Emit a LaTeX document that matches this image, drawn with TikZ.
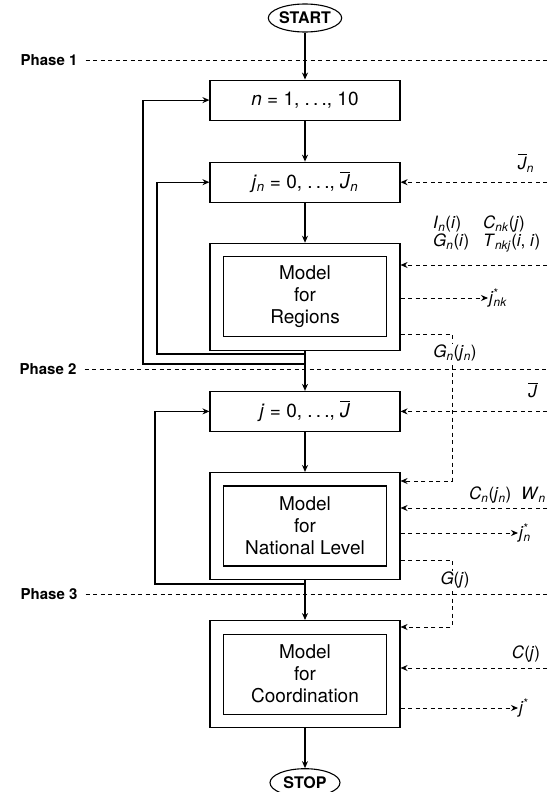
\documentclass[tikz,border=0pt]{standalone}
\usepackage{amsmath}
\usepackage{fontspec}
\setmainfont{TeX Gyre Heros}
\usepackage{tikz}
\usetikzlibrary{arrows.meta,positioning,shapes.geometric}

\newcommand{\ivar}[1]{\textit{#1}}
\newcommand{\isub}[2]{\textit{#1}\textsubscript{\textit{#2}}}
\newcommand{\istar}[2]{\textit{#1}\rlap{\textsuperscript{*}}\textsubscript{\textit{#2}}}
\newcommand{\barJ}{\ensuremath{\overline{\mbox{\textit{J}}}}}
\newcommand{\sdots}{.\,.\,.}

\begin{document}
\begin{tikzpicture}[
  x=1pt, y=-1pt,
  node distance=40pt,
  box/.style={draw=black, line width=1.1pt, minimum width=190pt, minimum height=40pt, inner sep=0pt, font=\fontsize{19}{22}\selectfont},
  outerbox/.style={draw=black, line width=1.1pt, minimum width=190pt, minimum height=107pt, inner sep=0pt},
  innerbox/.style={draw=black, line width=1.1pt, minimum width=163pt, minimum height=80pt, align=center, font=\fontsize{19}{22}\selectfont},
  term/.style={draw=black, ellipse, line width=1.1pt, minimum width=70pt, minimum height=28pt, inner sep=0pt, font=\bfseries\fontsize{16}{18}\selectfont},
  arr/.style={-{Stealth[length=7pt, width=6pt]}, line width=1.1pt},
  feed/.style={line width=0.9pt, dash pattern=on 4pt off 3.5pt},
  feedarr/.style={feed, -{Stealth[length=7pt, width=6pt]}},
  phlbl/.style={font=\bfseries\fontsize{15}{18}\selectfont, inner sep=2pt},
  lbl/.style={font=\fontsize{17}{18}\selectfont, inner sep=1pt},
]
  \useasboundingbox (0,0) rectangle (547,792);

  % main column
  \node[term] (start) at (305,18) {START};
  \node[box, below=47pt of start]    (nloop)  {\ivar{n} = 1, \sdots, 10};
  \node[box, below=41pt of nloop]    (jnloop) {\isub{j}{n} = 0, \sdots, \barJ\textsubscript{\ivar{n}}};
  \node[outerbox, below=of jnloop]   (reg)    {};
  \node[innerbox] (regin) at (reg)            {Model\\for\\Regions};
  \node[box, below=of reg]           (jloop)  {\ivar{j} = 0, \sdots, \barJ};
  \node[outerbox, below=of jloop]    (nat)    {};
  \node[innerbox] (natin) at (nat)            {Model\\for\\National Level};
  \node[outerbox, below=of nat]      (coord)  {};
  \node[innerbox] (coordin) at (coord)        {Model\\for\\Coordination};
  \node[term, below=of coord]        (stop)   {STOP};

  \draw[arr] (start)  -- (nloop);
  \draw[arr] (nloop)  -- (jnloop);
  \draw[arr] (jnloop) -- (reg);
  \draw[arr] (reg)    -- (jloop);
  \draw[arr] (jloop)  -- (nat);
  \draw[arr] (nat)    -- (coord);
  \draw[arr] (coord)  -- (stop);

  % loops back
  \coordinate (ret1) at (reg.south |- 0,364);
  \coordinate (ret2) at (reg.south |- 0,354);
  \coordinate (ret3) at (nat.south |- 0,584);
  \draw[arr] (ret1) -- ++(-162,0) |- (nloop.west);
  \draw[arr] (ret2) -- ++(-148,0) |- (jnloop.west);
  \draw[arr] (ret3) -- ++(-150,0) |- (jloop.west);

  % phases
  \node[phlbl] (ph1) at (49,60)  {Phase 1};
  \node[phlbl] (ph2) at (48,369) {Phase 2};
  \node[phlbl] (ph3) at (49,594) {Phase 3};
  \coordinate (ph1end) at (547,60);
  \coordinate (ph2end) at (547,369);
  \coordinate (ph3end) at (547,594);
  \draw[feed] ([xshift=6pt]ph1.east) -- (ph1end);
  \draw[feed] ([xshift=6pt]ph2.east) -- (ph2end);
  \draw[feed] ([xshift=6pt]ph3.east) -- (ph3end);

  % phase 1 data
  \node[lbl] (lJn) at (526,163) {\barJ\textsubscript{\ivar{n}}};
  \coordinate (inJn) at (jnloop.east -| 547,0);
  \draw[feedarr] (inJn) -- (jnloop.east);
  \node[lbl, align=left, anchor=west] (lReg) at (432,234)
    {\makebox[50pt][l]{\isub{I}{n}(\ivar{i})}\isub{C}{nk}(\ivar{j})\\
     \makebox[50pt][l]{\isub{G}{n}(\ivar{i})}\isub{T}{nkj}(\ivar{i}, \ivar{i})};
  \coordinate (inReg) at (547,265);
  \draw[feedarr] (inReg) -- (inReg -| reg.east);
  \node[lbl, anchor=west] (ojnk) at (488,298) {\istar{j}{nk}};
  \draw[feedarr] (ojnk.west -| reg.east) -- (ojnk.west);
  \coordinate (gnbend) at (452,334);
  \draw[feedarr] (gnbend -| reg.east) -- (gnbend) |- (nat.east |- 0,481);
  \node[lbl, fill=white] (lGn) at (455,353) {\isub{G}{n}(\isub{j}{n})};

  % phase 2 data
  \node[lbl] (lJ) at (533,390) {\barJ};
  \coordinate (inJ) at (jloop.east -| 547,0);
  \draw[feedarr] (inJ) -- (jloop.east);
  \node[lbl, anchor=east] (lNat) at (547,495)
    {\makebox[52pt][l]{\isub{C}{n}(\isub{j}{n})}\isub{W}{n}};
  \coordinate (inNat) at (547,508);
  \draw[feedarr] (inNat) -- (inNat -| nat.east);
  \node[lbl, anchor=west] (ojn) at (518,533) {\istar{j}{n}};
  \draw[feedarr] (ojn.west -| nat.east) -- (ojn.west);
  \coordinate (gbend) at (452,560);
  \draw[feedarr] (gbend -| nat.east) -- (gbend) |- (coord.east |- 0,627);
  \node[lbl, fill=white] (lG) at (455,580) {\ivar{G}(\ivar{j})};

  % phase 3 data
  \node[lbl] (lC) at (526,654) {\ivar{C}(\ivar{j})};
  \coordinate (inCo) at (547,668);
  \draw[feedarr] (inCo) -- (inCo -| coord.east);
  \node[lbl, anchor=west] (oj) at (518,708) {\ivar{j}\textsuperscript{*}};
  \draw[feedarr] (oj.west -| coord.east) -- (oj.west);
\end{tikzpicture}
\end{document}
